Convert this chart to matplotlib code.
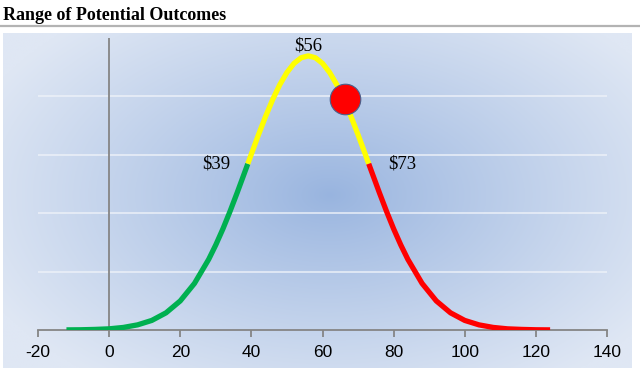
import numpy as np
import matplotlib
matplotlib.use("Agg")
import matplotlib.pyplot as plt

# outcome values ($) and the height of the bell curve
outcome = [-12, -8, -4, 0, 4, 8, 12, 16, 20, 24, 28, 30, 32, 34, 36, 38, 39,
           40, 42, 44, 46, 48, 50, 52, 54, 56, 58, 60, 62, 64, 66, 68, 70,
           72, 73, 74, 76, 78, 80, 82, 84, 88, 92, 96, 100, 104, 108, 112,
           116, 120, 124]
density = [0.00001, 0.00002, 0.00005, 0.00010, 0.00022, 0.00044, 0.00082,
           0.00147, 0.00249, 0.00399, 0.00605, 0.00729, 0.00866, 0.01016,
           0.01175, 0.01340, 0.01423, 0.01507, 0.01672, 0.01829, 0.01974,
           0.02101, 0.02205, 0.02283, 0.02331, 0.02347, 0.02331, 0.02283,
           0.02205, 0.02101, 0.01974, 0.01829, 0.01672, 0.01507, 0.01423,
           0.01340, 0.01175, 0.01016, 0.00866, 0.00729, 0.00605, 0.00399,
           0.00249, 0.00147, 0.00082, 0.00044, 0.00022, 0.00010, 0.00005,
           0.00002, 0.00001]

low_value = 39
mid_value = 56
high_value = 73
current = (66.4, 0.0198)

x_ticks = [-20, 0, 20, 40, 60, 80, 100, 120, 140]
grid_levels = [0.005, 0.010, 0.015, 0.020]

x = np.array(outcome)
y = np.array(density)

fig = plt.figure(figsize=(6.4, 3.7), dpi=100)
fig.patch.set_facecolor("white")

# title and rule under it
fig.text(3 / 640, 1 - 15 / 370, "Range of Potential Outcomes",
         family="Liberation Serif", weight="bold", fontsize=13,
         va="center", ha="left")
fig.add_artist(plt.Line2D([0, 1], [1 - 25.5 / 370] * 2, color="#b3b3b3",
                          lw=1.6, transform=fig.transFigure))

# chart area with radial gradient
bg = fig.add_axes([3 / 640, 2 / 370, 629 / 640, 335 / 370])
bg.set_axis_off()
gx, gy = np.meshgrid(np.linspace(0, 629, 400), np.linspace(0, 335, 240))
cx, cy = 330 - 3, 195 - 33
r = np.sqrt(((gx - cx) / 380) ** 2 + ((gy - cy) / 230) ** 2)
r = np.clip(r, 0, 1) ** 0.9
c0 = np.array([0x98, 0xb4, 0xdf]) / 255
c1 = np.array([0xdf, 0xe7, 0xf4]) / 255
img = c0[None, None, :] * (1 - r[..., None]) + c1[None, None, :] * r[..., None]
bg.imshow(img, extent=[0, 1, 0, 1], aspect="auto", origin="upper")
bg.set_xlim(0, 1)
bg.set_ylim(0, 1)

ax = fig.add_axes([38 / 640, 1 - 330 / 370, 569 / 640, 292 / 370])
ax.patch.set_alpha(0)
ax.set_xlim(-20, 140)
ax.set_ylim(0, 0.025)

for g in grid_levels:
    ax.axhline(g, color="#eef2f9", lw=1.3, alpha=0.8, zorder=1)
ax.axvline(0, color="#858585", lw=1.3, zorder=2)

green = x <= low_value
yellow = (x >= low_value) & (x <= high_value)
red = x >= high_value
ax.plot(x[green], y[green], color="#00b050", lw=3.8, solid_capstyle="butt",
        solid_joinstyle="round", zorder=3)
ax.plot(x[yellow], y[yellow], color="#ffff00", lw=3.8, solid_capstyle="butt",
        solid_joinstyle="round", zorder=3)
ax.plot(x[red], y[red], color="#ff0000", lw=3.8, solid_capstyle="butt",
        solid_joinstyle="round", zorder=3)

ax.plot([current[0]], [current[1]], "o", ms=22, color="#ff0000",
        mec="#4a5f8a", mew=0.8, zorder=4)

peak = max(density)
edge = density[outcome.index(low_value)]
label_font = dict(family="Liberation Serif", fontsize=13.5, zorder=5)
ax.text(mid_value, peak + 0.0001, f"${mid_value}", ha="center", va="bottom",
        **label_font)
ax.text(low_value - 5, edge, f"${low_value}", ha="right", va="center",
        **label_font)
ax.text(high_value + 5.5, edge, f"${high_value}", ha="left", va="center",
        **label_font)

for s in ["top", "right", "left"]:
    ax.spines[s].set_visible(False)
ax.spines["bottom"].set_color("#858585")
ax.spines["bottom"].set_linewidth(1.3)
ax.set_yticks([])
ax.set_xticks(x_ticks)
ax.set_xticklabels([str(t) for t in x_ticks], family="Liberation Sans",
                   fontsize=12.5)
ax.tick_params(axis="x", direction="out", length=5, width=1.3,
               color="#858585", pad=6)

fig.savefig("out.png", dpi=100)
